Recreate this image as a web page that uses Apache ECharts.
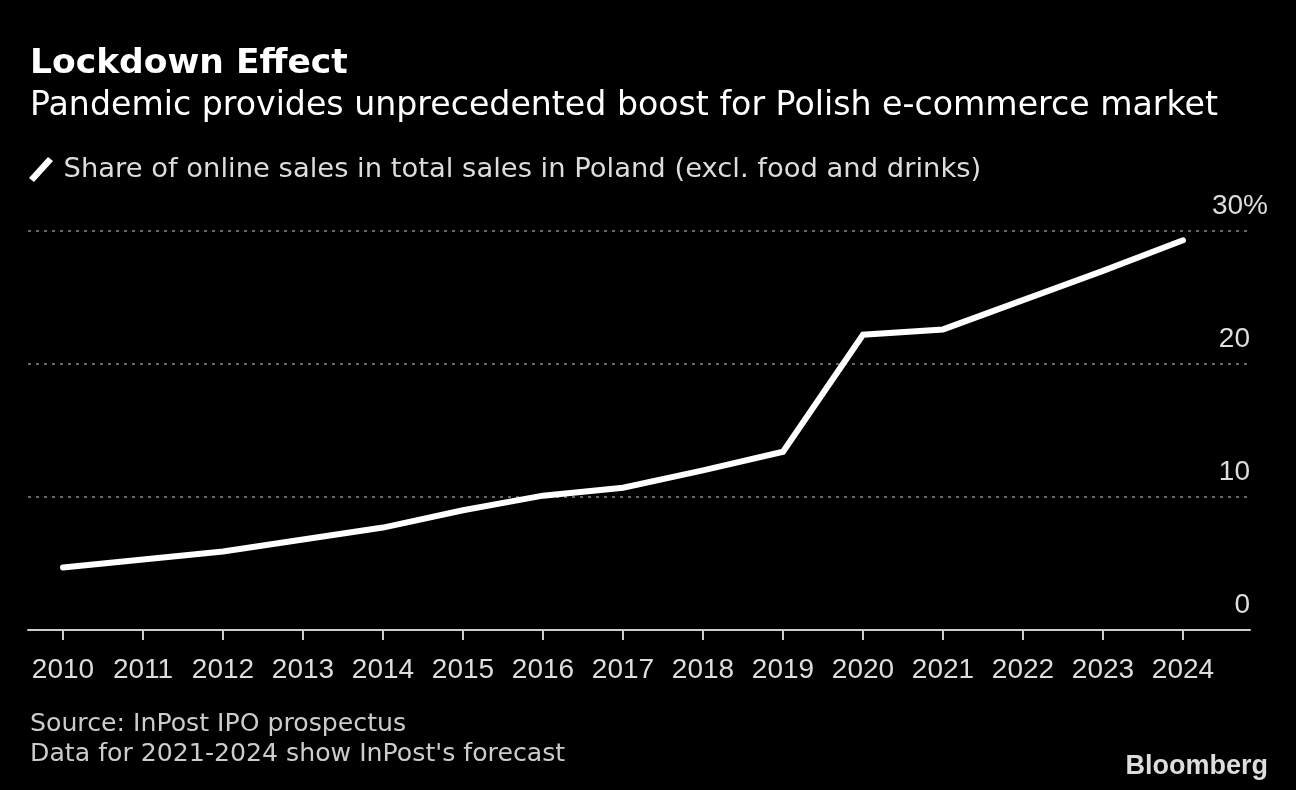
<!DOCTYPE html>
<html><head><meta charset="utf-8">
<script src="https://cdn.jsdelivr.net/npm/echarts@6/dist/echarts.min.js"></script>
<style>html,body{margin:0;padding:0;background:#000;}#c{width:1296px;height:790px;}</style>
</head><body><div id="c"></div>
<script>
const years = [2010,2011,2012,2013,2014,2015,2016,2017,2018,2019,2020,2021,2022,2023,2024];
const shares = [4.7,5.3,5.9,6.8,7.7,9.0,10.1,10.7,12.0,13.4,22.2,22.6,24.8,27.0,29.3];
const yTicks = [0,10,20,30];
const seriesName = 'Share of online sales in total sales in Poland (excl. food and drinks)';
const titleText = 'Lockdown Effect';
const subtitleText = 'Pandemic provides unprecedented boost for Polish e-commerce market';
const sourceLines = ['Source: InPost IPO prospectus', "Data for 2021-2024 show InPost's forecast"];

const DV = 'DejaVu Sans';
const SANS = 'Liberation Sans';
const chart = echarts.init(document.getElementById('c'), null, {renderer:'canvas'});
chart.setOption({
  backgroundColor:'#000',
  animation:false,
  title:[
    {text:titleText, left:25, top:42, textStyle:{color:'#fff', fontFamily:DV, fontWeight:'bold', fontSize:34.5}},
    {text:subtitleText, left:25, top:85, textStyle:{color:'#fff', fontFamily:DV, fontWeight:'normal', fontSize:33.2}},
    {text:sourceLines.join('\n'), left:25, top:704, textStyle:{color:'#ccc', fontFamily:DV, fontWeight:'normal', fontSize:25.2, lineHeight:30}},
    {text:'Bloomberg', right:23, top:748, textStyle:{color:'#ddd', fontFamily:SANS, fontWeight:'bold', fontSize:27}}
  ],
  legend:{
    left:24, top:151, itemWidth:25, itemHeight:25, itemGap:10,
    icon:'path://M0,21 L19,0 L24,4 L5,25 Z',
    textStyle:{color:'#ddd', fontFamily:DV, fontSize:27.4, padding:[0,0,0,5]},
    data:[{name:seriesName, itemStyle:{color:'#fff'}}]
  },
  grid:{left:28, right:46, top:231, bottom:160, containLabel:false},
  xAxis:{
    type:'value', min:2009.5625, max:2024.8375,
    axisLine:{show:true, lineStyle:{color:'#ccc', width:2}},
    axisTick:{show:true, customValues:years, length:10, lineStyle:{color:'#ccc', width:2}},
    axisLabel:{show:true, customValues:years, formatter:v=>String(v), color:'#ddd', fontFamily:SANS, fontSize:28, margin:26},
    splitLine:{show:false}
  },
  yAxis:{
    type:'value', position:'right', min:yTicks[0], max:yTicks[yTicks.length-1], interval:10,
    axisLine:{show:false}, axisTick:{show:false},
    splitLine:{show:true, lineStyle:{color:'#888', type:[3,5], width:1.5}},
    axisLabel:{inside:true, margin:-18, verticalAlign:'bottom', color:'#ddd', fontFamily:SANS, fontSize:28,
      formatter:v=> v===30 ? '{a|30%}' : '{b|'+v+'}',
      rich:{a:{color:'#ddd', fontFamily:SANS, fontSize:28, padding:[0,0,11,0]}, b:{color:'#ddd', fontFamily:SANS, fontSize:28, padding:[0,18,11,0]}}
    }
  },
  series:[{
    name:seriesName, type:'line', data:years.map((y,i)=>[y,shares[i]]),
    symbol:'none', lineStyle:{color:'#fff', width:6, cap:'round', join:'miter'}, itemStyle:{color:'#fff'}
  }]
});
</script></body></html>
